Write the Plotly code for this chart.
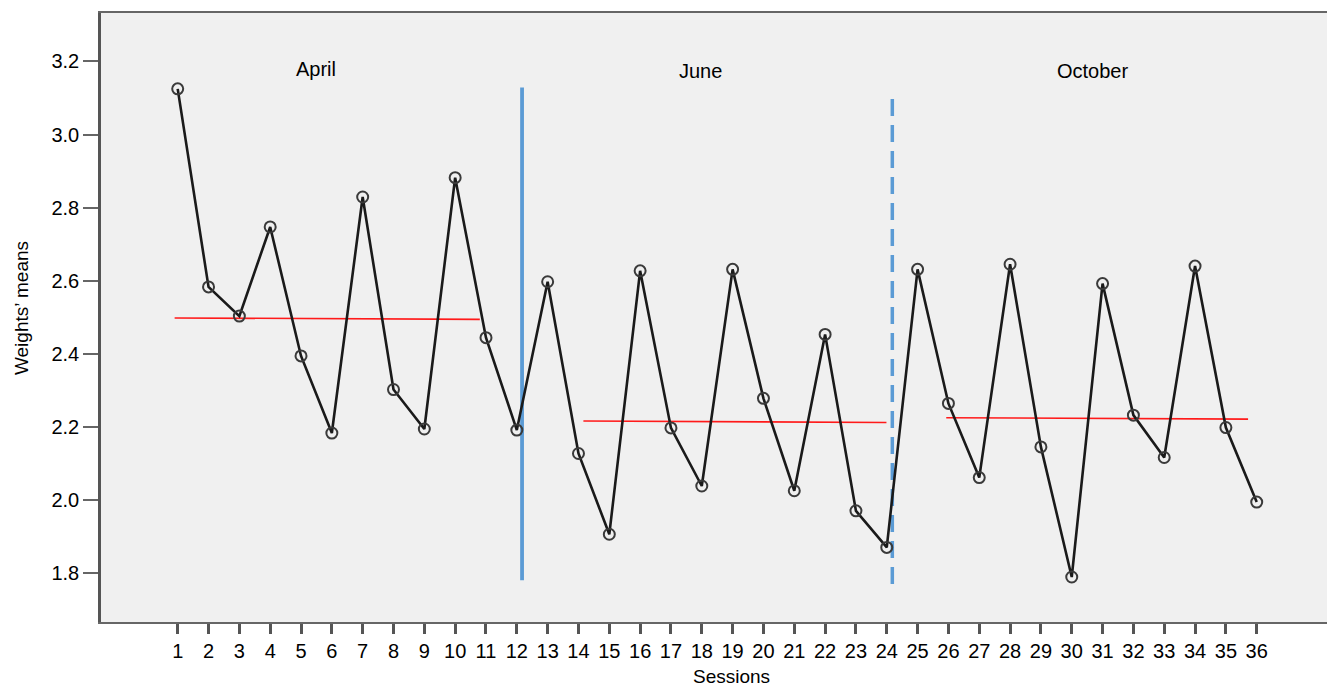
import plotly.graph_objects as go

sessions = list(range(1, 37))
weights_means = [3.125, 2.583, 2.503, 2.747, 2.394, 2.183, 2.829, 2.302, 2.194, 2.882,
                 2.444, 2.191, 2.597, 2.127, 1.906, 2.627, 2.197, 2.038, 2.631, 2.278,
                 2.025, 2.453, 1.970, 1.870, 2.631, 2.264, 2.061, 2.645, 2.145, 1.789,
                 2.592, 2.232, 2.116, 2.640, 2.198, 1.994]

# period mean lines: [x_start, x_end], [y_start, y_end]
april_mean_x = [0.9, 10.8]
april_mean_y = [2.498, 2.494]
june_mean_x = [14.16, 23.99]
june_mean_y = [2.216, 2.212]
october_mean_x = [25.93, 35.72]
october_mean_y = [2.225, 2.221]

# period separators
june_start_x = [12.17, 12.17]
june_start_y = [3.129, 1.780]
october_start_x = [24.18, 24.18]
october_start_y = [3.097, 1.746]

period_labels = ["April", "June", "October"]
period_label_x = [5.49, 17.97, 30.66]
period_label_y = [3.18, 3.175, 3.175]

y_ticks = [1.8, 2.0, 2.2, 2.4, 2.6, 2.8, 3.0, 3.2]

x_title = "Sessions"
y_title = "Weights’ means"

FONT = "Liberation Sans, Arial, sans-serif"

fig = go.Figure()

for mx, my in [(april_mean_x, april_mean_y), (june_mean_x, june_mean_y),
               (october_mean_x, october_mean_y)]:
    fig.add_trace(go.Scatter(x=mx, y=my, mode="lines",
                             line=dict(color="#ff1a1a", width=1.6),
                             showlegend=False, hoverinfo="skip"))

fig.add_trace(go.Scatter(x=june_start_x, y=june_start_y, mode="lines",
                         line=dict(color="#5b9bd5", width=3.8),
                         showlegend=False, hoverinfo="skip"))
fig.add_trace(go.Scatter(x=october_start_x, y=october_start_y, mode="lines",
                         line=dict(color="#5b9bd5", width=3.5, dash="17px,9px"),
                         showlegend=False, hoverinfo="skip"))

fig.add_trace(go.Scatter(
    x=sessions, y=weights_means, mode="lines+markers",
    line=dict(color="#1a1a1a", width=2.6),
    marker=dict(symbol="circle-open", size=11, color="#3a3a3a",
                line=dict(width=2, color="#3a3a3a")),
    showlegend=False))

for txt, lx, ly in zip(period_labels, period_label_x, period_label_y):
    fig.add_annotation(x=lx, y=ly, text=txt, showarrow=False,
                       font=dict(family=FONT, size=20, color="black"),
                       xanchor="center", yanchor="middle")

# axis titles as annotations (placed like the reference)
fig.add_annotation(xref="paper", yref="paper", x=0.514, y=-0.090, text=x_title,
                   showarrow=False, xanchor="center", yanchor="middle",
                   font=dict(family=FONT, size=19, color="black"))
fig.add_annotation(xref="paper", yref="paper", x=-0.0644, y=0.5156, text=y_title,
                   showarrow=False, xanchor="center", yanchor="middle", textangle=-90,
                   font=dict(family=FONT, size=19, color="black"))

fig.update_layout(
    width=1327, height=687,
    margin=dict(l=101, r=0, t=13, b=65),
    paper_bgcolor="white",
    plot_bgcolor="#f0f0f0",
    font=dict(family=FONT, size=20, color="black"),
    showlegend=False,
)

fig.update_xaxes(
    range=[-1.488, 38.28],
    tickmode="array", tickvals=sessions, ticktext=[str(s) for s in sessions],
    ticks="outside", ticklen=10, tickwidth=3, tickcolor="#555555",
    showline=True, linecolor="#666666", linewidth=2, mirror=True,
    showgrid=False, zeroline=False,
    tickfont=dict(family=FONT, size=20, color="black"),
)
fig.update_yaxes(
    range=[1.6658, 3.3326],
    tickmode="array", tickvals=y_ticks, ticktext=[f"{v:.1f}" for v in y_ticks],
    ticks="outside", ticklen=15, tickwidth=2, tickcolor="#666666",
    showline=True, linecolor="#555555", linewidth=2.5, mirror=False,
    showgrid=False, zeroline=False,
    tickfont=dict(family=FONT, size=20, color="black"),
)

fig.write_html(
    "out.html",
    config={"displayModeBar": False},
    post_script="document.body.style.margin='0';document.body.style.overflow='hidden';",
)
